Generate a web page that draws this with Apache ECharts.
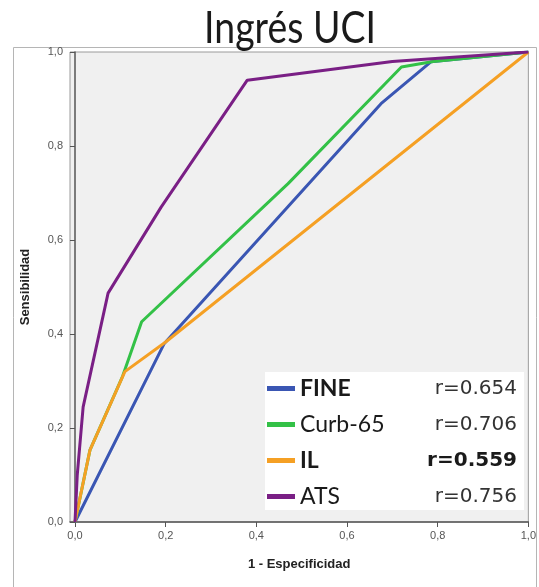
<!DOCTYPE html>
<html>
<head>
<meta charset="utf-8">
<script src="https://cdn.jsdelivr.net/npm/echarts@6/dist/echarts.min.js"></script>
<style>
html,body{margin:0;padding:0;background:#fff;}
#chart{width:539px;height:587px;}
</style>
</head>
<body>
<div id="chart"></div>
<script>
// ---- data ----
var titleText = 'Ingrés UCI';
var xAxisTitle = '1 - Especificidad';
var yAxisTitle = 'Sensibilidad';
var tickValues = [0, 0.2, 0.4, 0.6, 0.8, 1.0];

var seriesNames = ['FINE', 'Curb-65', 'IL', 'ATS'];
var rLabels = ['r=0.654', 'r=0.706', 'r=0.559', 'r=0.756'];
var boldNames = [true, false, true, false];
var boldValues = [false, false, true, false];
var seriesColors = ['#3a56b3', '#33c147', '#f5a024', '#7a1f85'];

var fine = [[0, 0], [0.197, 0.38], [0.675, 0.89], [0.785, 0.979], [1, 1]];
var curb65 = [[0, 0], [0.033, 0.153], [0.105, 0.31], [0.147, 0.426], [0.47, 0.72], [0.72, 0.968], [0.79, 0.98], [1, 1]];
var il = [[0, 0], [0.033, 0.153], [0.11, 0.32], [0.2, 0.383], [1, 1]];
var ats = [[0, 0], [0.005, 0.1], [0.018, 0.245], [0.073, 0.487], [0.19, 0.67], [0.38, 0.94], [0.70, 0.98], [1, 1]];
var seriesData = [fine, curb65, il, ats];

// ---- chart ----
var chart = echarts.init(document.getElementById('chart'), null, {renderer: 'canvas'});
function fmt(v) { return v.toFixed(1).replace('.', ','); }

var series = seriesNames.map(function (n, i) {
  return {
    name: n,
    type: 'line',
    data: seriesData[i],
    showSymbol: false,
    symbol: 'none',
    lineStyle: {width: 3, color: seriesColors[i]},
    itemStyle: {color: seriesColors[i]},
    z: 2 + (i === 3 ? 1 : 0)
  };
});

var option = {
  animation: false,
  backgroundColor: '#ffffff',
  graphic: [{
    type: 'rect',
    shape: {x: 13.5, y: 47.5, width: 523, height: 560},
    style: {fill: 'none', stroke: '#b5b5b5', lineWidth: 1},
    silent: true,
    z: -10
  }, {
    type: 'text',
    x: 290,
    y: 29,
    scaleX: 0.85,
    silent: true,
    z: 10,
    style: {
      text: titleText,
      fontFamily: 'Lato',
      fontSize: 44,
      fill: '#1a1a1a',
      align: 'center',
      verticalAlign: 'middle'
    }
  }],
  grid: {
    left: 70, right: 7, top: 52, bottom: 65,
    show: true,
    backgroundColor: '#f0f0f0',
    borderColor: '#9a9a9a',
    borderWidth: 1
  },
  legend: {
    left: 265,
    top: 372,
    orient: 'vertical',
    backgroundColor: '#ffffff',
    padding: [5, 7, 2, 2],
    itemGap: 13,
    itemWidth: 28,
    itemHeight: 5,
    icon: 'rect',
    data: seriesNames,
    formatter: function (name) {
      var i = seriesNames.indexOf(name);
      return '{' + (boldNames[i] ? 'nb' : 'nn') + '|' + name + '}{' + (boldValues[i] ? 'vb' : 'vn') + '|' + rLabels[i] + '}';
    },
    textStyle: {
      rich: {
        nb: {fontFamily: 'Lato', fontWeight: 'bold', fontSize: 23, color: '#1a1a1a', width: 125, height: 26},
        nn: {fontFamily: 'Lato', fontWeight: 'normal', fontSize: 23, color: '#1a1a1a', width: 125, height: 26},
        vb: {fontFamily: 'DejaVu Sans', fontWeight: 'bold', fontSize: 20, color: '#1a1a1a', width: 92, align: 'right', height: 26},
        vn: {fontFamily: 'DejaVu Sans', fontWeight: 'normal', fontSize: 20, color: '#333', width: 92, align: 'right', height: 26}
      }
    }
  },
  xAxis: {
    type: 'value',
    min: -0.011,
    max: 1,
    name: xAxisTitle,
    nameLocation: 'middle',
    nameGap: 36,
    nameTextStyle: {fontFamily: 'Liberation Sans', fontWeight: 'bold', fontSize: 13, color: '#222'},
    axisLine: {show: true, lineStyle: {color: '#555', width: 1.5}},
    axisTick: {show: true, customValues: tickValues, length: 5, inside: false, lineStyle: {color: '#555'}},
    axisLabel: {customValues: tickValues, formatter: fmt, fontSize: 11, color: '#555', fontFamily: 'Liberation Sans', margin: 8},
    splitLine: {show: false}
  },
  yAxis: {
    type: 'value',
    min: 0,
    max: 1,
    interval: 0.2,
    name: yAxisTitle,
    nameLocation: 'middle',
    nameGap: 38,
    nameRotate: 90,
    nameTextStyle: {fontFamily: 'Liberation Sans', fontWeight: 'bold', fontSize: 13, color: '#222'},
    axisLine: {show: true, lineStyle: {color: '#555', width: 1.5}},
    axisTick: {show: true, length: 5, lineStyle: {color: '#555'}},
    axisLabel: {formatter: fmt, fontSize: 11, color: '#555', fontFamily: 'Liberation Sans', margin: 7},
    splitLine: {show: false}
  },
  series: series
};
chart.setOption(option);
</script>
</body>
</html>
